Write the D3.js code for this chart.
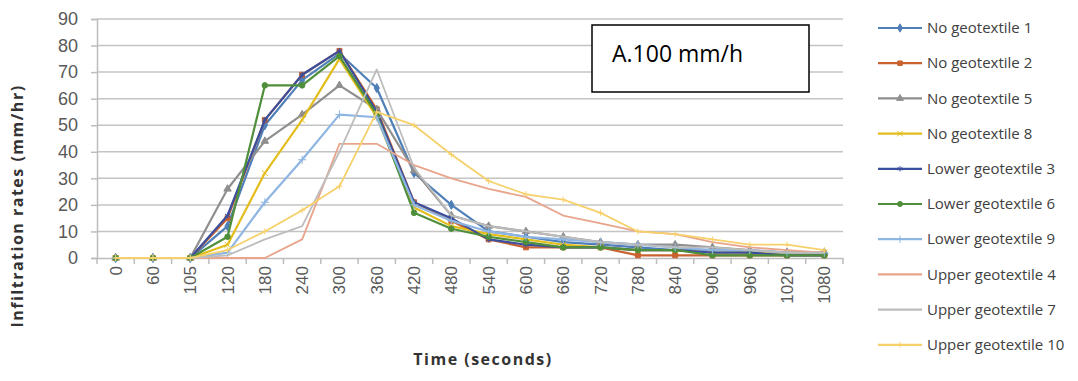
<!DOCTYPE html>
<html>
<head>
<script src="https://d3js.org/d3.v7.min.js"></script>
<style>
  body { margin: 0; background: #fff; }
  svg { font-family: "Open Sans", "Liberation Sans", sans-serif; }
</style>
</head>
<body>
<svg id="chart" width="1078" height="381"></svg>
<script>
// categories on the x axis (seconds)
var times = ["0","60","105","120","180","240","300","360","420","480","540","600","660","720","780","840","900","960","1020","1080"];
var yTicks = [0,10,20,30,40,50,60,70,80,90];

// infiltration rates (mm/hr)
var noGeo1  = [0,0,0,12,50,67,77,64,32,20,10,8,6,5,4,3,3,2,2,2];
var noGeo2  = [0,0,0,15,52,69,78,56,21,14,7,4,4,4,1,1,1,1,1,1];
var noGeo5  = [0,0,0,26,44,54,65,56,33,16,12,10,8,6,5,5,4,3,2,2];
var noGeo8  = [0,0,0,5,32,52,75,53,19,12,9,7,5,4,3,3,2,2,2,2];
var lower3  = [0,0,0,16,52,69,78,55,21,15,7,5,4,4,3,3,2,2,1,1];
var lower6  = [0,0,0,8,65,65,76,54,17,11,8,6,4,4,3,3,1,1,1,1];
var lower9  = [0,0,0,2,21,37,54,53,20,14,10,8,7,6,5,4,3,3,2,2];
var upper4  = [0,0,0,0,0,7,43,43,35,30,26,23,16,13,10,9,6,4,3,2];
var upper7  = [0,0,0,1,7,12,40,71,34,16,12,10,8,6,5,4,4,3,2,2];
var upper10 = [0,0,0,3,10,18,27,55,50,39,29,24,22,17,10,9,7,5,5,3];

var seriesNames = ["No geotextile 1","No geotextile 2","No geotextile 5","No geotextile 8",
  "Lower geotextile 3","Lower geotextile 6","Lower geotextile 9",
  "Upper geotextile 4","Upper geotextile 7","Upper geotextile 10"];
var seriesValues = [noGeo1, noGeo2, noGeo5, noGeo8, lower3, lower6, lower9, upper4, upper7, upper10];
var colors = ["#4f7fb8","#c9622e","#8f8f8f","#e3bd1c","#3b4f9e","#4f8f3b","#8fb6e2","#e8a58c","#bdbdbd","#f6d06a"];
var markers = [d3.symbolDiamond, d3.symbolSquare, d3.symbolTriangle, d3.symbolX,
  d3.symbolAsterisk, d3.symbolCircle, d3.symbolPlus, null, null, d3.symbolPlus];

var svg = d3.select("#chart");
var plotLeft = 97, plotRight = 843, plotTop = 19, plotBottom = 258;

var x = d3.scaleBand().domain(times).range([plotLeft, plotRight]);
var y = d3.scaleLinear().domain([0, 90]).range([plotBottom, plotTop]);
var cx = function(t) { return x(t) + x.bandwidth() / 2; };

// gridlines
svg.append("g").selectAll("line").data(yTicks.slice(1)).join("line")
  .attr("x1", plotLeft).attr("x2", plotRight)
  .attr("y1", function(d) { return y(d); }).attr("y2", function(d) { return y(d); })
  .attr("stroke", "#c4c4c4").attr("stroke-width", 1.5);

// y axis
var yAxis = svg.append("g").attr("transform", "translate(" + plotLeft + ",0)")
  .call(d3.axisLeft(y).tickValues(yTicks).tickSize(6).tickPadding(13));
yAxis.select(".domain").attr("stroke", "#bdbdbd").attr("stroke-width", 1.5);
yAxis.selectAll(".tick line").attr("stroke", "#bdbdbd").attr("stroke-width", 1.5);
yAxis.selectAll("text").attr("font-size", 18).attr("fill", "#595959");

// x axis, labels rotated
var xAxis = svg.append("g").attr("transform", "translate(0," + plotBottom + ")")
  .call(d3.axisBottom(x).tickSize(0).tickSizeOuter(0));
xAxis.select(".domain").attr("stroke", "#bdbdbd").attr("stroke-width", 1.5);
xAxis.selectAll("text")
  .attr("font-size", 17).attr("fill", "#595959")
  .attr("transform", "rotate(-90)")
  .attr("text-anchor", "end").attr("dx", "-8").attr("dy", "0.35em").attr("y", 0);
// boundary ticks between categories
svg.append("g").selectAll("line").data(times.concat(["end"])).join("line")
  .attr("x1", function(d, i) { return i < times.length ? x(d) : plotRight; })
  .attr("x2", function(d, i) { return i < times.length ? x(d) : plotRight; })
  .attr("y1", plotBottom).attr("y2", plotBottom + 6)
  .attr("stroke", "#bdbdbd").attr("stroke-width", 1.5);

// series lines and markers
var line = d3.line().x(function(d, i) { return cx(times[i]); }).y(function(d) { return y(d); });
seriesValues.forEach(function(vals, s) {
  var g = svg.append("g");
  g.append("path").datum(vals).attr("d", line)
    .attr("fill", "none").attr("stroke", colors[s]).attr("stroke-width", s < 7 ? 2.2 : 1.8)
    .attr("stroke-linejoin", "round");
  if (markers[s]) {
    g.selectAll("path.m").data(vals).join("path").attr("class", "m")
      .attr("transform", function(d, i) { return "translate(" + cx(times[i]) + "," + y(d) + ")"; })
      .attr("d", d3.symbol().type(markers[s]).size(s < 7 ? 24 : 14))
      .attr("fill", colors[s]).attr("stroke", colors[s]).attr("stroke-width", 1);
  }
});

// annotation box
svg.append("rect").attr("x", 592).attr("y", 25).attr("width", 217).attr("height", 67)
  .attr("fill", "#fff").attr("stroke", "#000").attr("stroke-width", 1.5);
svg.append("text").attr("x", 612).attr("y", 62).attr("font-size", 23).attr("fill", "#000")
  .text("A.100 mm/h");

// legend
var legend = svg.append("g");
seriesNames.forEach(function(name, s) {
  var ly = 28 + s * 35.2;
  legend.append("line").attr("x1", 878).attr("x2", 922).attr("y1", ly).attr("y2", ly)
    .attr("stroke", colors[s]).attr("stroke-width", 2.2);
  if (markers[s]) {
    legend.append("path").attr("transform", "translate(900," + ly + ")")
      .attr("d", d3.symbol().type(markers[s]).size(s < 7 ? 20 : 12))
      .attr("fill", colors[s]).attr("stroke", colors[s]);
  }
  legend.append("text").attr("x", 927).attr("y", ly).attr("dy", "0.35em")
    .attr("font-size", 15).attr("fill", "#404040").text(name);
});

// axis titles
svg.append("text").attr("transform", "translate(23,206) rotate(-90)")
  .attr("text-anchor", "middle").attr("font-size", 16).attr("font-weight", "bold")
  .attr("letter-spacing", 1.5).attr("fill", "#333").text("Infiltration rates (mm/hr)");
svg.append("text").attr("x", 483).attr("y", 365)
  .attr("text-anchor", "middle").attr("font-size", 16).attr("font-weight", "bold")
  .attr("letter-spacing", 1.5).attr("fill", "#333").text("Time (seconds)");
</script>
</body>
</html>
